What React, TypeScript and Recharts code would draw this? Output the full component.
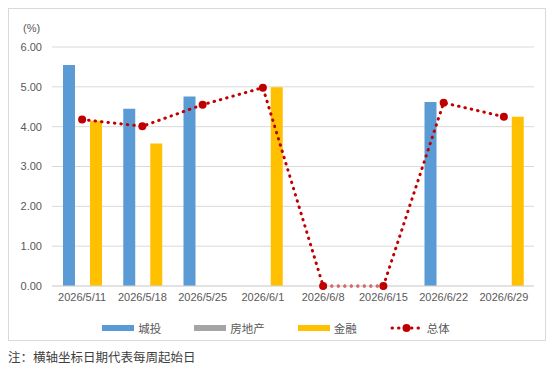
import {
  ComposedChart, Bar, Line, XAxis, YAxis, CartesianGrid, Legend,
} from "recharts";

const weeks = ["2026/5/11", "2026/5/18", "2026/5/25", "2026/6/1", "2026/6/8", "2026/6/15", "2026/6/22", "2026/6/29"];
const chengtou = [5.55, 4.45, 4.76, null, null, null, 4.62, null];
const fangdichan = [null, null, null, null, null, null, null, null];
const jinrong = [4.15, 3.58, null, 4.99, null, null, null, 4.25];
const zongti = [4.18, 4.01, 4.55, 4.98, 0, 0, 4.6, 4.25];
const yTicks = [0, 1, 2, 3, 4, 5, 6];

const data = weeks.map((w, i) => ({
  week: w,
  chengtou: chengtou[i],
  fangdichan: fangdichan[i],
  jinrong: jinrong[i],
  zongti: zongti[i],
}));

const FONT = '"Liberation Sans", "Noto Sans CJK SC", sans-serif';
const AXIS_COLOR = "#595959";
const GRID = "#d9d9d9";

const legendItems = [
  { name: "城投", color: "#5b9bd5", type: "bar" },
  { name: "房地产", color: "#a5a5a5", type: "bar" },
  { name: "金融", color: "#ffc000", type: "bar" },
  { name: "总体", color: "#c00000", type: "line" },
];

const ChartLegend = () => (
  <div style={{ display: "flex", justifyContent: "center", alignItems: "center", gap: 33, paddingLeft: 9, paddingTop: 6, height: 24, fontFamily: FONT, fontSize: 11.5, color: AXIS_COLOR }}>
    {legendItems.map((it) => (
      <div key={it.name} style={{ display: "flex", alignItems: "center", gap: 4 }}>
        {it.type === "bar" ? (
          <span style={{ display: "inline-block", width: 32, height: 6, background: it.color }} />
        ) : (
          <svg width={33} height={10}>
            <line x1={2} y1={5} x2={31} y2={5} stroke={it.color} strokeWidth={3} strokeLinecap="round" strokeDasharray="0.5 6" />
            <circle cx={16.5} cy={5} r={4} fill={it.color} />
          </svg>
        )}
        <span>{it.name}</span>
      </div>
    ))}
  </div>
);

export default function App() {
  return (
    <div>
      <div style={{ position: "relative", width: 536, height: 331, border: "1px solid #d9d9d9" }}>
        <span style={{ position: "absolute", left: 14, top: 13, fontFamily: FONT, fontSize: 11, color: AXIS_COLOR }}>(%)</span>
        <ComposedChart
          width={536}
          height={331}
          data={data}
          margin={{ top: 38, right: 11, left: 0, bottom: 0 }}
          barSize={12}
          barGap={1.5}
        >
          <CartesianGrid vertical={false} stroke={GRID} />
          <XAxis
            dataKey="week"
            interval={0}
            tickLine={false}
            axisLine={{ stroke: GRID }}
            tickMargin={1}
            height={24}
            tick={{ fontSize: 11, fill: AXIS_COLOR, fontFamily: FONT }}
          />
          <YAxis
            domain={[0, 6]}
            ticks={yTicks}
            width={43}
            tickLine={false}
            axisLine={false}
            tickMargin={4}
            tickFormatter={(v: number) => v.toFixed(2)}
            tick={{ fontSize: 11, fill: AXIS_COLOR, fontFamily: FONT }}
          />
          <Legend verticalAlign="bottom" height={30} content={() => <ChartLegend />} />
          <Bar dataKey="chengtou" name="城投" fill="#5b9bd5" isAnimationActive={false} />
          <Bar dataKey="fangdichan" name="房地产" fill="#a5a5a5" isAnimationActive={false} />
          <Bar dataKey="jinrong" name="金融" fill="#ffc000" isAnimationActive={false} />
          <Line
            dataKey="zongti"
            name="总体"
            type="linear"
            stroke="#c00000"
            strokeWidth={3}
            strokeLinecap="round"
            strokeDasharray="0.5 6"
            dot={{ r: 4, fill: "#c00000", stroke: "none" }}
            activeDot={false}
            isAnimationActive={false}
          />
        </ComposedChart>
      </div>
      <div style={{ marginTop: 8, fontFamily: '"Noto Sans CJK SC", sans-serif', fontSize: 12.5, lineHeight: "16px", color: "#404040" }}>
        注：横轴坐标日期代表每周起始日
      </div>
    </div>
  );
}
